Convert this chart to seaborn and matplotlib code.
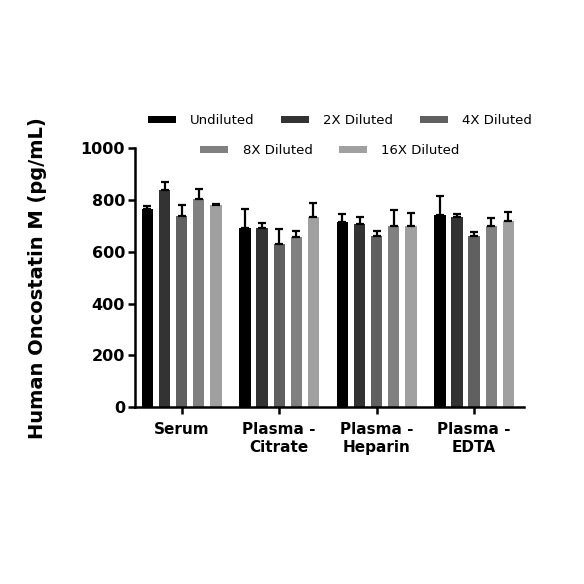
import numpy as np
import pandas as pd
import matplotlib
matplotlib.use("Agg")
import matplotlib.pyplot as plt
from matplotlib.patches import Patch
import seaborn as sns

categories = ["Serum", "Plasma -\nCitrate", "Plasma -\nHeparin", "Plasma -\nEDTA"]
dilutions = ["Undiluted", "2X Diluted", "4X Diluted", "8X Diluted", "16X Diluted"]
colors = ["#000000", "#333333", "#606060", "#808080", "#a0a0a0"]

undiluted = [764, 692, 714, 744]
diluted_2x = [840, 692, 709, 735]
diluted_4x = [739, 630, 660, 663]
diluted_8x = [803, 659, 701, 700]
diluted_16x = [781, 735, 700, 721]

err_undiluted = [13, 72, 32, 71]
err_2x = [30, 19, 27, 11]
err_4x = [41, 57, 20, 15]
err_8x = [39, 22, 62, 31]
err_16x = [4, 53, 49, 33]

values = [undiluted, diluted_2x, diluted_4x, diluted_8x, diluted_16x]
errors = [err_undiluted, err_2x, err_4x, err_8x, err_16x]

rows = []
for d, vals, errs in zip(dilutions, values, errors):
    for c, v, e in zip(categories, vals, errs):
        rows.append({"Sample": c, "Dilution": d, "Value": v, "Err": e})
df = pd.DataFrame(rows)

sns.set_theme(style="ticks")
plt.rcParams["font.family"] = ["DejaVu Sans"]
plt.rcParams["text.color"] = "black"
plt.rcParams["axes.labelcolor"] = "black"
plt.rcParams["xtick.color"] = "black"
plt.rcParams["ytick.color"] = "black"

fig = plt.figure(figsize=(5.84, 5.84), dpi=100)
ax = fig.add_axes([0.231, 0.303, 0.666, 0.443])

sns.barplot(data=df, x="Sample", y="Value", hue="Dilution", order=categories,
            hue_order=dilutions, palette=colors, width=0.878, gap=0.34,
            errorbar=None, ax=ax, legend=False, saturation=1, linewidth=0)

# error bars (upper only), positioned from the drawn bars
for hi, d in enumerate(dilutions):
    sub = df[df["Dilution"] == d].set_index("Sample").loc[categories]
    bars = ax.patches[hi * len(categories):(hi + 1) * len(categories)]
    xs = [b.get_x() + b.get_width() / 2 for b in bars]
    ax.errorbar(xs, sub["Value"].values,
                yerr=[np.zeros(len(xs)), sub["Err"].values],
                fmt="none", ecolor="black", elinewidth=1.6, capsize=3.2,
                capthick=1.6, zorder=3)

ax.set_ylim(0, 1000)
ax.set_xlim(-0.48, 3.51)
ax.set_yticks([0, 200, 400, 600, 800, 1000])
ax.set_xlabel("")
ax.set_ylabel("Human Oncostatin M (pg/mL)", fontsize=14, fontweight="bold",
              labelpad=24)
ax.tick_params(axis="both", direction="out", width=1.8, length=5, color="black",
               labelcolor="black")
ax.tick_params(axis="y", labelsize=11.5, pad=2)
ax.tick_params(axis="x", labelsize=11, pad=6)
for lab in ax.get_xticklabels() + ax.get_yticklabels():
    lab.set_fontweight("bold")
for s in ["top", "right"]:
    ax.spines[s].set_visible(False)
for s in ["left", "bottom"]:
    ax.spines[s].set_linewidth(1.8)
    ax.spines[s].set_color("black")

handles = [Patch(facecolor=c, edgecolor="none", label=l) for c, l in zip(colors, dilutions)]
leg_kw = dict(frameon=False, fontsize=9.5, handlelength=2.1, handleheight=0.45,
              handletextpad=1.1, columnspacing=2.0, borderaxespad=0, borderpad=0,
              labelcolor="black")
l1 = fig.legend(handles=handles[:3], ncol=3, loc="center",
                bbox_to_anchor=(340 / 584, 1 - 121 / 584), **leg_kw)
l2 = fig.legend(handles=handles[3:], ncol=2, loc="center",
                bbox_to_anchor=(330 / 584, 1 - 151 / 584), **leg_kw)

fig.savefig("out.png", dpi=100)
